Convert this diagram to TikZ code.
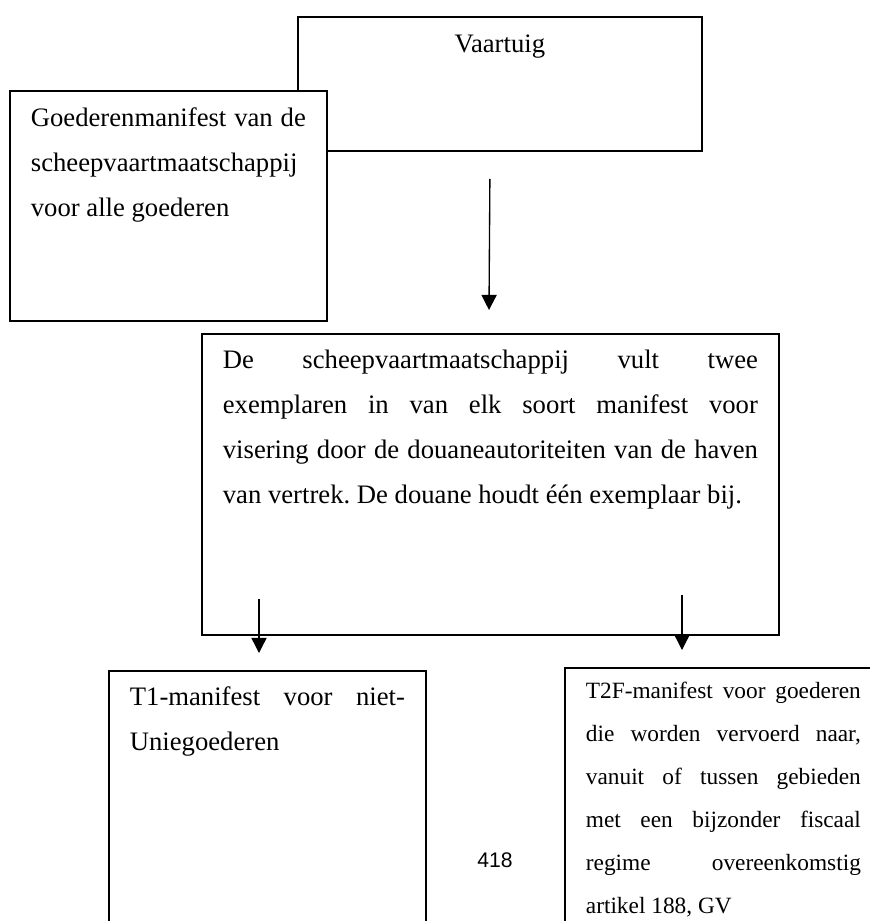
\documentclass[tikz,border=0pt]{standalone}
\usepackage{fontspec}
\setmainfont{Liberation Serif}
\newfontfamily\paginafont{Liberation Sans}
\usepackage{tikz}
\usetikzlibrary{arrows.meta}
\tolerance=10000
\hyphenpenalty=10000
\frenchspacing
\tikzset{
  box/.style={draw,line width=0.8pt,fill=white,anchor=north west,inner xsep=9.45pt,inner ysep=0pt,align=justify,text width=123.75pt},
  ar/.style={-{Triangle[length=6.8pt,width=6.8pt]},line width=0.6pt}
}

\begin{document}
\begin{tikzpicture}[x=0.45pt,y=-0.45pt,bx/.style={box,font=\frenchspacing\fontsize{12}{20.25}\selectfont,text height=16.2pt}]
\clip (0,0) rectangle (870,921);
\node[bx,align=center,text width=162.9pt,text depth=44.1pt] (vt) at (297,16) {Vaartuig};
\node[bx,text depth=87.3pt] (gm) at (9,90) {Goederenmanifest van de\linebreak scheepvaartmaatschappij\newline voor alle goederen};
\node[bx,text width=240.75pt,text height=15.75pt,text depth=119.7pt] (sm) at (201,333) {De scheepvaartmaatschappij vult twee\linebreak exemplaren in van elk soort manifest voor\linebreak visering door de douaneautoriteiten van de haven\linebreak van vertrek. De douane houdt één exemplaar bij.};
\node[bx,text height=15.75pt,text depth=130pt] (t1) at (108,670) {T1-manifest voor niet-\linebreak Uniegoederen};
\node[bx,font=\frenchspacing\fontsize{10.5}{19.35}\selectfont,text height=13.95pt,text depth=130pt] (t2f) at (564,667) {T2F-manifest voor goederen\linebreak die worden vervoerd naar,\linebreak vanuit of tussen gebieden\linebreak met een bijzonder fiscaal\linebreak regime overeenkomstig\linebreak artikel 188, GV};
\node[font=\paginafont\fontsize{9.5}{11}\selectfont,anchor=base] (pg) at (495,867) {418};
\draw[ar] ([shift={(-10,27)}]vt.south) -- ([shift={(288,-23)}]sm.north west);
\draw[ar] ([shift={(58,-37)}]sm.south west) -- ([shift={(151,-17)}]t1.north west);
\draw[ar] ([shift={(481,-41)}]sm.south west) -- ([shift={(118,-17)}]t2f.north west);
\end{tikzpicture}
\end{document}
